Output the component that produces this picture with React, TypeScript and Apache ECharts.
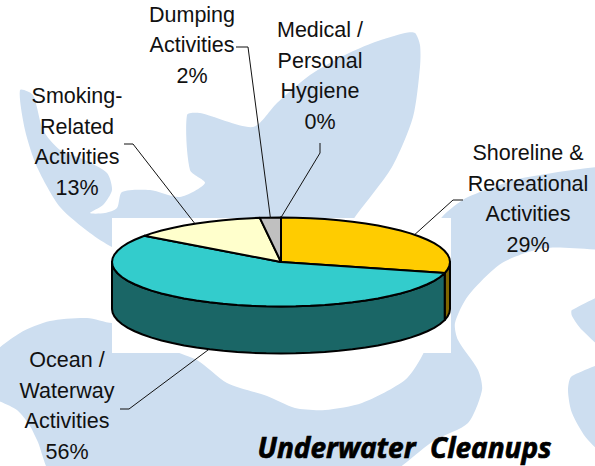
import React, { useEffect, useRef } from "react";
import * as echarts from "echarts";

const categories = [
  "Shoreline &\nRecreational\nActivities",
  "Ocean /\nWaterway\nActivities",
  "Smoking-\nRelated\nActivities",
  "Dumping\nActivities",
  "Medical /\nPersonal\nHygiene",
];
const shares = [29, 56, 13, 2, 0];
const topColors = ["#FFCC00", "#33CCCC", "#FFFFCC", "#C0C0C0", "#FFFFFF"];
const sideColors = ["#806600", "#1A6666", "#80806A", "#606060", "#808080"];
const title = "Underwater  Cleanups";

// Layout of the flattened 3D pie
const CX = 281;
const CY = 262;
const RX = 169;
const RY = 44.5;
const DEPTH = 47;
// label centre [x, y] and leader polyline points from label to slice
const labelLayout: { x: number; y: number; leader: number[][] }[] = [
  { x: 528, y: 199, leader: [[463, 200], [453, 200]] },
  { x: 67, y: 406, leader: [[120, 409], [129, 409]] },
  { x: 77, y: 142, leader: [[124, 144], [133, 144]] },
  { x: 192, y: 45, leader: [[236, 47], [248, 47]] },
  { x: 320, y: 76, leader: [[320, 143], [320, 153]] },
];

const BLUE = "#CDDEF0";
const blobMain = [
  [20, 90], [33, 95], [43, 130], [60, 150], [85, 160], [107, 173], [112, 190], [103, 205], [90, 213],
  [105, 213], [117, 208], [122, 192], [150, 190], [180, 197], [205, 183], [190, 170], [187, 115],
  [200, 113], [253, 127], [277, 103], [310, 75], [345, 55], [375, 42], [405, 33], [415, 33],
  [420, 45], [420, 67], [413, 117], [392, 167], [355, 217], [340, 240], [430, 240], [442, 217],
  [468, 197], [528, 177], [640, 170], [640, 245], [545, 248], [502, 263], [468, 296], [455, 323],
  [458, 340], [478, 370], [482, 390], [468, 423], [435, 440], [375, 480], [57, 480], [37, 440],
  [30, 426], [17, 410], [-15, 392], [-15, 362], [20, 333], [50, 321], [87, 318], [112, 323],
  [135, 320], [135, 255], [112, 247], [90, 233], [60, 207], [37, 167], [25, 130],
];
const bayBottom = [
  [150, 340], [197, 360], [227, 383], [267, 396], [295, 408], [325, 410], [362, 403], [405, 380],
  [422, 356], [430, 330], [300, 320],
];
const blobRightA = [[625, 290], [572, 310], [572, 316], [582, 330], [625, 365]];
const blobRightB = [[625, 362], [572, 376], [568, 390], [572, 413], [588, 440], [625, 470]];

const rad = (d: number) => (d * Math.PI) / 180;
const topPt = (deg: number) => [CX + RX * Math.sin(rad(deg)), CY - RY * Math.cos(rad(deg))];
const arcPts = (from: number, to: number) => {
  const pts: number[][] = [];
  const step = 5;
  if (to <= from) return [topPt(from)];
  pts.push(topPt(from));
  for (let d = Math.ceil((from + 0.001) / step) * step; d < to; d += step) pts.push(topPt(d));
  pts.push(topPt(to));
  return pts;
};

const total = shares.reduce((a, b) => a + b, 0);

export default function App() {
  const ref = useRef<HTMLDivElement>(null);
  useEffect(() => {
    document.body.style.margin = "0";
    const chart = echarts.init(ref.current!, undefined, { renderer: "svg" });
    const shapeBg = (points: number[][], fill: string) => ({
      type: "polygon",
      silent: true,
      shape: { points, smooth: 0.25 },
      style: { fill },
    });
    chart.setOption({
      animation: false,
      backgroundColor: "#FFFFFF",
      graphic: [
        shapeBg(blobMain, BLUE),
        shapeBg(bayBottom, "#FFFFFF"),
        shapeBg(blobRightA, BLUE),
        shapeBg(blobRightB, BLUE),
        { type: "rect", silent: true, shape: { x: 112, y: 218, width: 339, height: 135 }, style: { fill: "#FFFFFF" } },
        {
          type: "text",
          silent: true,
          x: 404.5,
          y: 447,
          style: {
            text: title,
            fill: "#000000",
            stroke: "#000000",
            lineWidth: 0.7,
            align: "center",
            verticalAlign: "middle",
            font: "italic bold 28px 'Open Sans'",
          },
        },
      ],
      series: [
        {
          type: "custom",
          coordinateSystem: "none",
          silent: true,
          data: shares.map((v) => [v]),
          renderItem: (params: any, api: any) => {
            const i = params.dataIndex;
            const before = shares.slice(0, i).reduce((a, b) => a + b, 0);
            const start = (before / total) * 360;
            const end = start + (api.value(0) / total) * 360;
            const mid = (start + end) / 2;
            const line = { stroke: "#000000", lineWidth: 2, lineJoin: "round" };
            const children: any[] = [];
            const a = Math.max(start, 90);
            const b = Math.min(end, 270);
            if (b > a) {
              const arc = arcPts(a, b);
              const lower = arc.map(([x, y]) => [x, y + DEPTH]).reverse();
              children.push({
                type: "polygon",
                shape: { points: [...arc, ...lower] },
                style: { fill: sideColors[i], ...line },
              });
            }
            children.push({
              type: "polygon",
              z2: 2,
              shape: { points: [[CX, CY], ...arcPts(start, end)] },
              style: { fill: topColors[i], ...line },
            });
            const layout = labelLayout[i];
            const [ax, ay] = topPt(mid);
            const onFront = mid > 90 && mid < 270;
            children.push({
              type: "polyline",
              z2: 3,
              shape: { points: [...layout.leader, [ax, ay + (onFront ? DEPTH : 0)]] },
              style: { stroke: "#111111", lineWidth: 1, fill: "none" },
            });
            children.push({
              type: "text",
              z2: 4,
              x: layout.x,
              y: layout.y,
              style: {
                text: `${categories[i]}\n${api.value(0)}%`,
                fill: "#111111",
                align: "center",
                verticalAlign: "middle",
                lineHeight: 30.5,
                font: "21.5px 'Liberation Sans'",
              },
            });
            return { type: "group", children };
          },
        },
      ],
    });
    return () => chart.dispose();
  }, []);
  return <div ref={ref} style={{ width: 595, height: 466 }} />;
}
